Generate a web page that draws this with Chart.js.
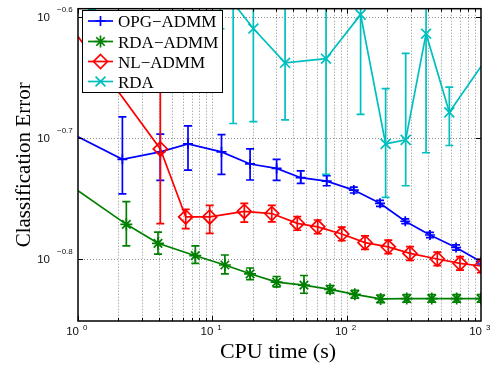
<!DOCTYPE html>
<html>
<head>
<meta charset="utf-8">
<script src="https://cdn.jsdelivr.net/npm/chart.js@4.4.0/dist/chart.umd.min.js"></script>
<style>
  html, body { margin: 0; padding: 0; background: #fff; }
  canvas { display: block; }
</style>
</head>
<body>
<canvas id="errChart" width="490" height="367"></canvas>
<script>
// --- data (CPU time in s, classification error) ---
const opgTime = [1, 2.14, 4.10, 6.59, 11.7, 19.1, 30.1, 45.5, 71.0, 113, 177, 273, 417, 652, 1000];
const opgErr  = [0.2000, 0.1916, 0.1943, 0.1973, 0.1943, 0.1899, 0.1883, 0.1850, 0.1838, 0.1807, 0.1762, 0.1703, 0.1659, 0.1620, 0.1577];
const opgLow  = [null, 0.1794, 0.1841, 0.1877, 0.1862, 0.1842, 0.1841, 0.1830, 0.1822, 0.1797, 0.1752, 0.1695, 0.1651, 0.1612, 0.1570];
const opgHigh = [null, 0.2077, 0.2010, 0.2042, 0.2008, 0.1954, 0.1916, 0.1874, 0.1857, 0.1817, 0.1772, 0.1711, 0.1667, 0.1628, 0.1584];

const rdaAdmmTime = [1, 2.29, 3.94, 7.47, 12.4, 19.1, 30.1, 48.1, 75.2, 115, 179, 280, 430, 659, 1000];
const rdaAdmmErr  = [0.1805, 0.1693, 0.1633, 0.1595, 0.1567, 0.1541, 0.1517, 0.1508, 0.1496, 0.1482, 0.1469, 0.1470, 0.1470, 0.1470, 0.1470];
const rdaAdmmLow  = [null, 0.1625, 0.1600, 0.1572, 0.1541, 0.1524, 0.1503, 0.1485, 0.1485, 0.1471, 0.1459, 0.1460, 0.1460, 0.1460, 0.1460];
const rdaAdmmHigh = [null, 0.1768, 0.1668, 0.1625, 0.1597, 0.1558, 0.1533, 0.1536, 0.1507, 0.1493, 0.1480, 0.1481, 0.1481, 0.1481, 0.1481];

const nlTime = [1, 4.10, 6.34, 9.56, 17.3, 27.7, 42.9, 60.9, 91.9, 137, 204, 296, 473, 698, 1000];
const nlErr  = [0.2420, 0.1954, 0.1717, 0.1717, 0.1735, 0.1728, 0.1696, 0.1685, 0.1662, 0.1635, 0.1622, 0.1602, 0.1585, 0.1572, 0.1564];
const nlLow  = [null, 0.1695, 0.1679, 0.1664, 0.1700, 0.1701, 0.1674, 0.1663, 0.1641, 0.1614, 0.1601, 0.1581, 0.1565, 0.1552, 0.1544];
const nlHigh = [null, 0.2258, 0.1742, 0.1755, 0.1762, 0.1755, 0.1718, 0.1707, 0.1684, 0.1656, 0.1643, 0.1623, 0.1606, 0.1592, 0.1584];

const rdaTime = [1.27, 11.5, 14.3, 20.2, 34.8, 70.2, 127, 195, 275, 390, 581, 1000];
const rdaErr  = [0.280, 0.270, 0.2580, 0.2457, 0.2302, 0.2320, 0.2523, 0.1973, 0.1988, 0.2433, 0.2095, 0.2286];
const rdaLow  = [0.2549, 0.2456, 0.2051, 0.2058, 0.2065, 0.1862, 0.2087, 0.1782, 0.1822, 0.1940, 0.1967, null];
const rdaHigh = [0.310, 0.300, 0.300, 0.290, 0.270, 0.280, 0.300, 0.2192, 0.2344, 0.300, 0.2198, null];

// axis ticks
const xTicks = [1, 10, 100, 1000];
const xTickExp = ['0', '1', '2', '3'];
const yTickPow = [-0.6, -0.7, -0.8];
const yTickExp = ['\u22120.6', '\u22120.7', '\u22120.8'];

const toPoints = (xs, ys) => xs.map((x, i) => ({ x, y: ys[i] }));

// points sitting on the left/right frame edge carry no visible marker in the figure
const series = [
  { label: 'OPG\u2212ADMM', x: opgTime, y: opgErr, lo: opgLow, hi: opgHigh, color: '#0000ff', style: 'cross', r: 5, hideFirst: true, hideLast: false, order: 4 },
  { label: 'RDA\u2212ADMM', x: rdaAdmmTime, y: rdaAdmmErr, lo: rdaAdmmLow, hi: rdaAdmmHigh, color: '#008000', style: 'star', r: 6, hideFirst: true, hideLast: false, order: 3 },
  { label: 'NL\u2212ADMM', x: nlTime, y: nlErr, lo: nlLow, hi: nlHigh, color: '#ff0000', style: 'rectRot', r: 7, hideFirst: true, hideLast: false, order: 2 },
  { label: 'RDA', x: rdaTime, y: rdaErr, lo: rdaLow, hi: rdaHigh, color: '#00bfbf', style: 'crossRot', r: 7, hideFirst: false, hideLast: true, order: 1 }
];

// draw a legend marker the same way as the plot markers
function drawMark(ctx, style, x, y, r) {
  ctx.beginPath();
  if (style === 'cross' || style === 'star') {
    ctx.moveTo(x - r, y); ctx.lineTo(x + r, y);
    ctx.moveTo(x, y - r); ctx.lineTo(x, y + r);
  }
  if (style === 'crossRot' || style === 'star') {
    const d = r * Math.SQRT1_2;
    ctx.moveTo(x - d, y - d); ctx.lineTo(x + d, y + d);
    ctx.moveTo(x - d, y + d); ctx.lineTo(x + d, y - d);
  }
  if (style === 'rectRot') {
    ctx.moveTo(x, y - r); ctx.lineTo(x + r, y); ctx.lineTo(x, y + r); ctx.lineTo(x - r, y); ctx.closePath();
  }
  ctx.stroke();
}

// error bars with caps, per dataset
const errorBars = {
  id: 'errorBars',
  beforeDatasetDraw(chart, args) {
    const ds = chart.data.datasets[args.index];
    if (!ds.errLow) return;
    const { ctx, chartArea: a, scales: { x, y } } = chart;
    ctx.save();
    ctx.beginPath();
    ctx.rect(a.left, a.top, a.right - a.left, a.bottom - a.top);
    ctx.clip();
    ctx.strokeStyle = ds.borderColor;
    ctx.lineWidth = 1.7;
    ds.data.forEach((p, i) => {
      const lo = ds.errLow[i], hi = ds.errHigh[i];
      if (lo == null) return;
      const px = x.getPixelForValue(p.x);
      const y1 = y.getPixelForValue(hi), y2 = y.getPixelForValue(lo);
      ctx.beginPath();
      ctx.moveTo(px, y1); ctx.lineTo(px, y2);
      ctx.moveTo(px - 4, y1); ctx.lineTo(px + 4, y1);
      ctx.moveTo(px - 4, y2); ctx.lineTo(px + 4, y2);
      ctx.stroke();
    });
    ctx.restore();
  }
};

// matlab-ish frame: dotted grid, box, inward ticks, labels, legend
const frame = {
  id: 'frame',
  beforeDatasetsDraw(chart) {
    const { ctx, chartArea: a, scales: { x, y } } = chart;
    ctx.save();
    ctx.strokeStyle = 'rgba(0,0,0,0.45)';
    ctx.lineWidth = 1;
    ctx.setLineDash([1, 2]);
    for (let dec = 1; dec < 1000; dec *= 10) {
      for (let m = 1; m <= 9; m++) {
        const v = m * dec;
        if (v === 1) continue;
        const px = Math.round(x.getPixelForValue(v)) + 0.5;
        ctx.beginPath(); ctx.moveTo(px, a.top); ctx.lineTo(px, a.bottom); ctx.stroke();
      }
    }
    yTickPow.forEach(p => {
      const py = Math.round(y.getPixelForValue(Math.pow(10, p))) + 0.5;
      ctx.beginPath(); ctx.moveTo(a.left, py); ctx.lineTo(a.right, py); ctx.stroke();
    });
    ctx.restore();
  },
  afterDraw(chart) {
    const { ctx, chartArea: a, scales: { x, y } } = chart;
    ctx.save();
    // inward ticks
    ctx.strokeStyle = '#000';
    ctx.lineWidth = 1;
    for (let dec = 1; dec < 1000; dec *= 10) {
      for (let m = 1; m <= 9; m++) {
        const px = Math.round(x.getPixelForValue(m * dec)) + 0.5;
        const len = m === 1 ? 5 : 3;
        ctx.beginPath();
        ctx.moveTo(px, a.bottom); ctx.lineTo(px, a.bottom - len);
        ctx.moveTo(px, a.top); ctx.lineTo(px, a.top + len);
        ctx.stroke();
      }
    }
    yTickPow.forEach(p => {
      const py = Math.round(y.getPixelForValue(Math.pow(10, p))) + 0.5;
      ctx.beginPath();
      ctx.moveTo(a.left, py); ctx.lineTo(a.left + 5, py);
      ctx.moveTo(a.right, py); ctx.lineTo(a.right - 5, py);
      ctx.stroke();
    });
    // box
    ctx.lineWidth = 1.5;
    ctx.strokeRect(a.left, a.top, a.right - a.left, a.bottom - a.top);

    // tick labels 10^k
    ctx.fillStyle = '#111';
    ctx.textBaseline = 'middle';
    xTicks.forEach((v, i) => {
      const px = x.getPixelForValue(v);
      ctx.font = "11.5px 'Liberation Sans', Arial, sans-serif";
      ctx.textAlign = 'right';
      ctx.fillText('10', px + 1, a.bottom + 11);
      ctx.font = "8px 'Liberation Sans', Arial, sans-serif";
      ctx.textAlign = 'left';
      ctx.fillText(xTickExp[i], px + 5, a.bottom + 6.5);
    });
    yTickPow.forEach((p, i) => {
      const py = y.getPixelForValue(Math.pow(10, p));
      ctx.font = "11.5px 'Liberation Sans', Arial, sans-serif";
      ctx.textAlign = 'right';
      ctx.fillText('10', 50, py + 1);
      ctx.font = "8px 'Liberation Sans', Arial, sans-serif";
      ctx.textAlign = 'left';
      ctx.fillText(yTickExp[i], 57, py - 7);
    });

    // axis titles
    ctx.fillStyle = '#000';
    ctx.textBaseline = 'alphabetic';
    ctx.textAlign = 'center';
    ctx.font = "22px 'Liberation Serif', 'Times New Roman', serif";
    ctx.fillText('CPU time (s)', 278, 358);
    ctx.save();
    ctx.translate(30, (a.top + a.bottom) / 2);
    ctx.rotate(-Math.PI / 2);
    ctx.font = "21px 'Liberation Serif', 'Times New Roman', serif";
    ctx.fillText('Classification Error', 0, 0);
    ctx.restore();

    // legend box
    const lx = 82, ly = 10, lw = 140, lh = 82;
    ctx.fillStyle = '#fff';
    ctx.fillRect(lx, ly, lw, lh);
    ctx.lineWidth = 1;
    ctx.strokeStyle = '#000';
    ctx.strokeRect(lx + 0.5, ly + 0.5, lw, lh);
    const rows = [21, 41.5, 61.5, 81.5];
    chart.data.datasets.forEach((ds, i) => {
      const ry = rows[i];
      ctx.strokeStyle = ds.borderColor;
      ctx.lineWidth = 1.7;
      ctx.beginPath(); ctx.moveTo(88, ry); ctx.lineTo(113, ry); ctx.stroke();
      drawMark(ctx, ds.pointStyle, 100.5, ry, ds.markSize);
      ctx.fillStyle = '#000';
      ctx.textAlign = 'left';
      ctx.font = "17px 'Liberation Serif', 'Times New Roman', serif";
      ctx.fillText(ds.label, 118, ry + 6);
    });
    ctx.restore();
  }
};

const datasets = series.map(s => ({
  label: s.label,
  data: toPoints(s.x, s.y),
  errLow: s.lo,
  errHigh: s.hi,
  markSize: s.r,
  borderColor: s.color,
  backgroundColor: 'transparent',
  borderWidth: 1.7,
  pointStyle: s.style,
  pointRadius: s.x.map((_, i) => (s.hideFirst && i === 0) || (s.hideLast && i === s.x.length - 1) ? 0 : s.r),
  pointBorderColor: s.color,
  pointBackgroundColor: 'transparent',
  pointBorderWidth: 1.7,
  tension: 0,
  order: s.order
}));

new Chart(document.getElementById('errChart'), {
  type: 'line',
  data: { datasets },
  options: {
    responsive: false,
    animation: false,
    events: [],
    layout: { padding: { left: 78, right: 9, top: 5, bottom: 46 } },
    plugins: { legend: { display: false }, tooltip: { enabled: false } },
    scales: {
      x: { type: 'logarithmic', min: 1, max: 1000, display: false },
      y: { type: 'logarithmic', min: Math.pow(10, -0.8512), max: Math.pow(10, -0.5932), display: false }
    }
  },
  plugins: [frame, errorBars]
});
</script>
</body>
</html>
